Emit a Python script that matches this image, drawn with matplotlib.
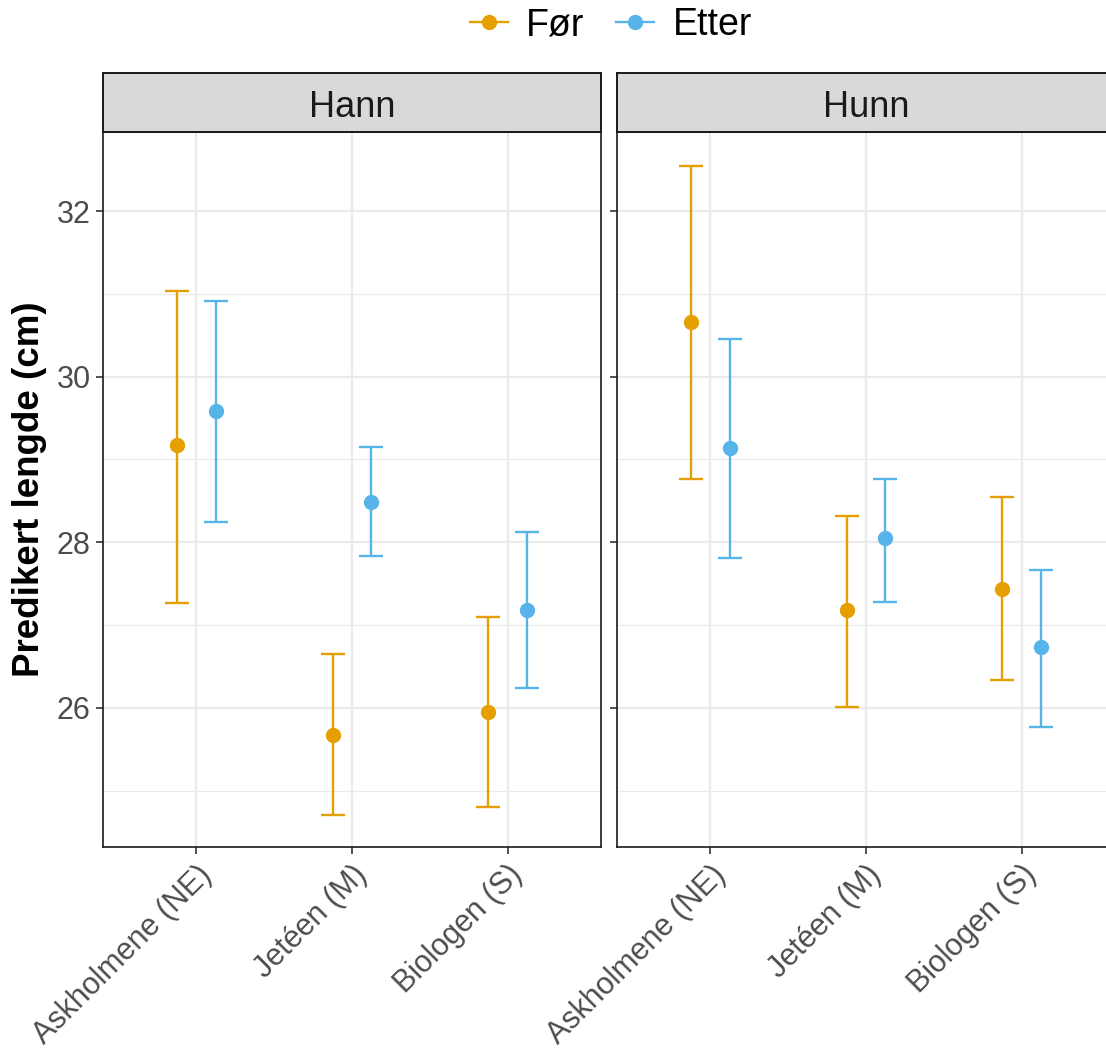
import numpy as np
import matplotlib
matplotlib.use('Agg')
import matplotlib.pyplot as plt
from matplotlib.lines import Line2D

plt.rcParams['font.family'] = ['Liberation Sans', 'DejaVu Sans']

# Data
sites = ["Askholmene (NE)", "Jetéen (M)", "Biologen (S)"]
sexes = ["Hann", "Hunn"]
periods = ["Før", "Etter"]

# Hann
hann_for = [29.17, 25.67, 25.95]
hann_for_lo = [27.27, 24.71, 24.80]
hann_for_hi = [31.04, 26.65, 27.10]
hann_etter = [29.58, 28.49, 27.18]
hann_etter_lo = [28.25, 27.83, 26.24]
hann_etter_hi = [30.91, 29.15, 28.12]

# Hunn
hunn_for = [30.66, 27.18, 27.44]
hunn_for_lo = [28.76, 26.01, 26.34]
hunn_for_hi = [32.55, 28.32, 28.55]
hunn_etter = [29.14, 28.05, 26.74]
hunn_etter_lo = [27.81, 27.28, 25.77]
hunn_etter_hi = [30.46, 28.77, 27.67]

colors = {"Før": "#E69F00", "Etter": "#56B4E9"}
offsets = {"Før": -0.125, "Etter": 0.125}

panel_data = {
    "Hann": {"Før": (hann_for, hann_for_lo, hann_for_hi),
             "Etter": (hann_etter, hann_etter_lo, hann_etter_hi)},
    "Hunn": {"Før": (hunn_for, hunn_for_lo, hunn_for_hi),
             "Etter": (hunn_etter, hunn_etter_lo, hunn_etter_hi)},
}

W, H = 1106, 1057
fig = plt.figure(figsize=(W / 100, H / 100), dpi=100)

def fig_rect(x0, y0, x1, y1):
    # pixel box (top-left origin) -> figure fraction
    return [x0 / W, 1 - y1 / H, (x1 - x0) / W, (y1 - y0) / H]

panel_left = [103, 617]
panel_w = 498
panel_top, panel_bot = 132, 847
strip_top = 73

ymin, ymax = 24.32, 32.955
x = np.arange(len(sites))

for i, sex in enumerate(sexes):
    x0 = panel_left[i]
    ax = fig.add_axes(fig_rect(x0, panel_top, x0 + panel_w, panel_bot))
    ax.set_xlim(-0.6, len(sites) - 0.4)
    ax.set_ylim(ymin, ymax)

    # grid
    for yv in [25, 27, 29, 31]:
        ax.axhline(yv, color="#EBEBEB", lw=0.8, zorder=0)
    for yv in [26, 28, 30, 32]:
        ax.axhline(yv, color="#EBEBEB", lw=1.6, zorder=0)
    for xv in x:
        ax.axvline(xv, color="#EBEBEB", lw=1.6, zorder=0)

    for p in periods:
        mean, lo, hi = panel_data[sex][p]
        mean = np.array(mean)
        yerr = [mean - np.array(lo), np.array(hi) - mean]
        ax.errorbar(x + offsets[p], mean, yerr=yerr, fmt='o', color=colors[p],
                    ms=10, elinewidth=1.7, capsize=8.3, capthick=1.7, zorder=3)

    for s in ax.spines.values():
        s.set_color("#1a1a1a")
        s.set_linewidth(1.2)

    ax.set_xticks(x)
    ax.set_xticklabels(sites, rotation=45, ha='right', va='top',
                       rotation_mode='anchor', fontsize=22, color="#4D4D4D")
    ax.tick_params(axis='both', length=5, width=1.2, color="#333333", pad=4)
    ax.set_yticks([26, 28, 30, 32])
    if i == 0:
        ax.set_yticklabels(["26", "28", "30", "32"], fontsize=22, color="#4D4D4D")
        ax.set_ylabel("Predikert lengde (cm)", fontsize=26.5, fontweight='bold', labelpad=7)
    else:
        ax.tick_params(axis='y', labelleft=False)

    # facet strip
    sax = fig.add_axes(fig_rect(x0, strip_top, x0 + panel_w, panel_top))
    sax.set_facecolor("#D9D9D9")
    sax.set_xticks([])
    sax.set_yticks([])
    for s in sax.spines.values():
        s.set_color("#1a1a1a")
        s.set_linewidth(1.4)
    sax.text(0.5, 0.42, sex, ha='center', va='center', fontsize=26, color="#1A1A1A",
             transform=sax.transAxes)

handles = [Line2D([0], [0], color=colors[p], lw=1.7, marker='o', ms=10) for p in periods]
fig.legend(handles, periods, loc='center', bbox_to_anchor=(611 / W, 1 - 25 / H),
           ncol=2, frameon=False, fontsize=27, handlelength=1.0, handletextpad=0.5,
           columnspacing=0.85)

fig.savefig("out.png", dpi=100)
